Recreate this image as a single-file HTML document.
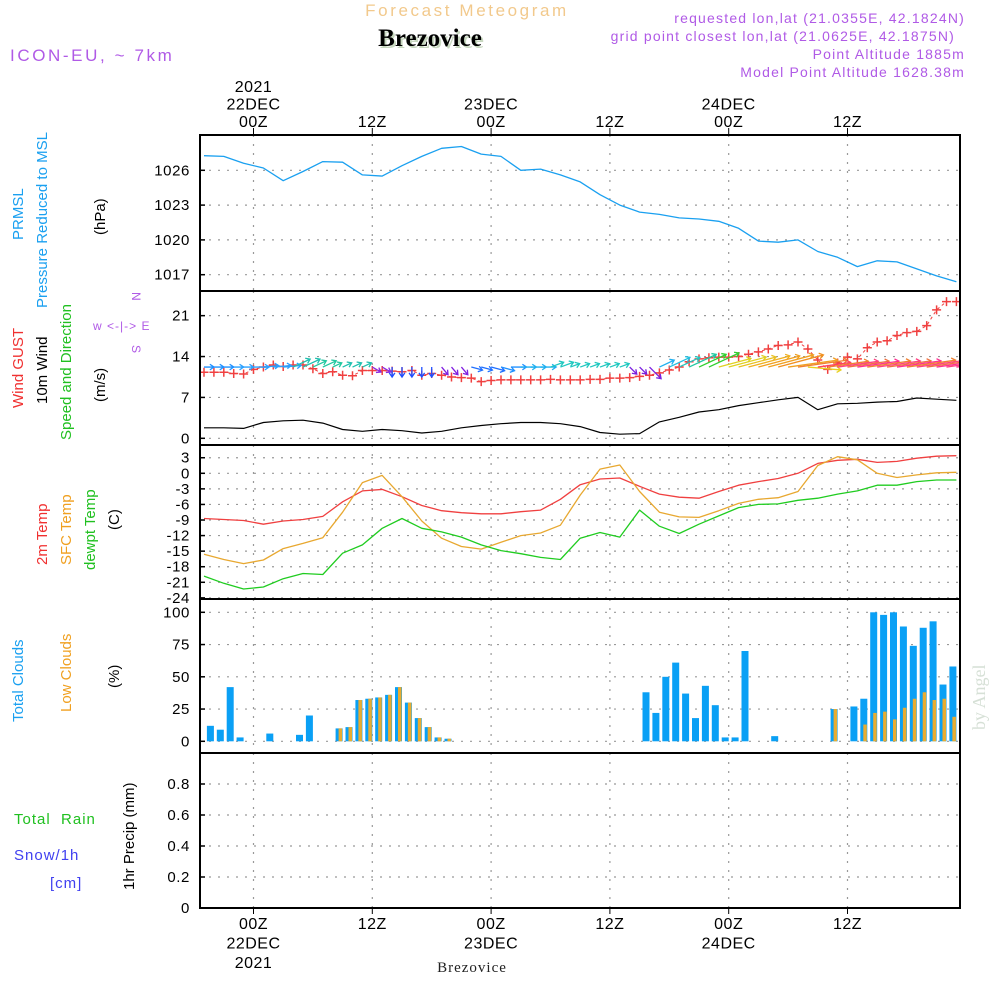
<!DOCTYPE html>
<html><head><meta charset="utf-8">
<style>
html,body{margin:0;padding:0;background:#fff;}
svg{display:block;font-family:"Liberation Sans",sans-serif;}
</style></head>
<body>
<svg id="chart" width="1000" height="1000" viewBox="0 0 1000 1000" xmlns="http://www.w3.org/2000/svg">
  <text x="467" y="16" text-anchor="middle" font-size="17" fill="#f2c98c" letter-spacing="2.6">Forecast Meteogram</text>
  <text x="432" y="48" text-anchor="middle" font-size="25" font-weight="bold" font-family="Liberation Serif, serif" fill="#c8d8c0">Brezovice</text>
  <text x="430" y="46" text-anchor="middle" font-size="25" font-weight="bold" font-family="Liberation Serif, serif" fill="#000">Brezovice</text>
  <text x="10" y="61" font-size="17" fill="#b05ae6" letter-spacing="2.6">ICON-EU, ~ 7km</text>
  <g font-size="14" fill="#b05ae6" text-anchor="end" letter-spacing="1.2">
    <text x="965" y="23">requested lon,lat (21.0355E, 42.1824N)</text>
    <text x="955" y="41">grid point closest lon,lat (21.0625E, 42.1875N)</text>
    <text x="965" y="59">Point Altitude 1885m</text>
    <text x="965" y="77">Model Point Altitude 1628.38m</text>
  </g>
  <text x="472" y="972" text-anchor="middle" font-size="15" font-family="Liberation Serif, serif" fill="#222" letter-spacing="1">Brezovice</text>
  <text transform="translate(985,730) rotate(-90)" font-size="18" font-family="Liberation Serif, serif" fill="#d6e0d6">by Angel</text>

  <g font-size="15">
    <text transform="translate(23,240) rotate(-90)" fill="#1aa0f0">PRMSL</text>
    <text transform="translate(47,308) rotate(-90)" fill="#1aa0f0">Pressure Reduced to MSL</text>
    <text transform="translate(105,235) rotate(-90)" fill="#000">(hPa)</text>
    <text transform="translate(23,408) rotate(-90)" fill="#f03030">Wind GUST</text>
    <text transform="translate(47,404) rotate(-90)" fill="#000">10m Wind</text>
    <text transform="translate(71,440) rotate(-90)" fill="#20c020">Speed and Direction</text>
    <text transform="translate(105,402) rotate(-90)" fill="#000">(m/s)</text>
    <text transform="translate(47,565) rotate(-90)" fill="#f03030">2m Temp</text>
    <text transform="translate(71,565) rotate(-90)" fill="#f0a020">SFC Temp</text>
    <text transform="translate(95,570) rotate(-90)" fill="#20c020">dewpt Temp</text>
    <text transform="translate(119,530) rotate(-90)" fill="#000">(C)</text>
    <text transform="translate(23,722) rotate(-90)" fill="#1aa0f0">Total Clouds</text>
    <text transform="translate(71,712) rotate(-90)" fill="#f0a020">Low Clouds</text>
    <text transform="translate(119,688) rotate(-90)" fill="#000">(%)</text>
    <text x="14" y="824" fill="#20c020" letter-spacing="1">Total&#160;&#160;Rain</text>
    <text x="14" y="860" fill="#4040f0" letter-spacing="1">Snow/1h</text>
    <text x="50" y="888" fill="#4040f0" letter-spacing="1">[cm]</text>
    <text transform="translate(134,890) rotate(-90)" fill="#000">1hr Precip (mm)</text>
  </g>
  <g font-size="12" fill="#b05ae6">
    <text transform="translate(132,292) rotate(90)">N</text>
    <text x="93" y="330" letter-spacing="1">w &lt;-|-&gt; E</text>
    <text transform="translate(132,345) rotate(90)">S</text>
  </g>
  <g id="plot"></g>
</svg>
<script>
// ---------- DATA ----------
const lineHours = [-5,-3,-1,1,3,5,7,9,11,13,15,17,19,21,23,25,27,29,31,33,35,37,39,41,43,45,47,49,51,53,55,57,59,61,63,65,67,69,71];
const pressure = [1027.26,1027.2,1026.6,1026.2,1025.1,1025.9,1026.75,1026.7,1025.6,1025.5,1026.4,1027.2,1027.9,1028.05,1027.4,1027.2,1026.0,1026.1,1025.6,1025.0,1023.9,1023.0,1022.4,1022.2,1021.9,1021.8,1021.6,1021.0,1019.9,1019.8,1020.0,1019.0,1018.5,1017.7,1018.2,1018.1,1017.5,1016.9,1016.4];
const windSpeed = [1.8,1.8,1.7,2.7,3.0,3.1,2.6,1.5,1.2,1.5,1.3,0.9,1.2,1.8,2.2,2.5,2.7,2.7,2.5,2.0,1.0,0.7,0.8,2.8,3.6,4.5,4.9,5.6,6.1,6.6,7.0,4.9,5.9,6.0,6.2,6.3,6.9,6.7,6.5];
const temp2m = [-8.7,-8.9,-9.1,-9.8,-9.2,-8.9,-8.3,-5.5,-3.4,-3.1,-4.5,-6.2,-7.2,-7.6,-7.8,-7.8,-7.4,-7.1,-5.0,-2.2,-1.1,-0.9,-2.5,-4.0,-4.6,-4.8,-3.5,-2.3,-1.6,-1.0,0.0,1.9,2.5,2.7,2.1,2.3,2.9,3.3,3.4];
const tempSfc = [-15.6,-16.6,-17.4,-16.7,-14.5,-13.5,-12.4,-7.5,-1.8,-0.4,-4.5,-9.2,-12.5,-14.1,-14.6,-13.3,-12.0,-11.5,-10.0,-4.2,0.8,1.6,-3.5,-7.5,-8.4,-8.5,-7.2,-5.8,-5.0,-4.7,-3.5,1.5,3.2,2.6,0.0,-0.8,-0.3,0.1,0.2];
const dewpt = [-19.8,-21.2,-22.3,-21.9,-20.3,-19.3,-19.5,-15.4,-13.8,-10.6,-8.7,-10.6,-11.3,-12.3,-13.8,-14.9,-15.5,-16.2,-16.6,-12.5,-11.4,-12.3,-7.1,-10.2,-11.6,-9.8,-8.2,-6.6,-6.0,-5.9,-5.2,-4.8,-4.0,-3.4,-2.3,-2.3,-1.6,-1.3,-1.3];

const gustStartHour = -5;
const gust = [11.3,11.3,11.3,11.1,11.0,11.8,12.2,12.55,12.3,12.55,12.55,11.9,11.1,11.4,10.8,10.7,11.6,11.6,11.6,11.5,11.4,11.6,10.8,11.1,10.8,10.5,10.4,10.3,9.7,9.9,10.0,10.0,10.0,10.0,10.0,10.1,10.0,10.0,10.0,
  10.1,10.1,10.3,10.3,10.4,10.6,10.8,11.2,11.7,12.2,13.1,13.6,13.8,13.9,13.9,14.0,14.4,14.8,15.3,15.9,16.0,16.5,15.3,13.4,11.8,12.9,13.9,13.6,15.5,16.5,16.7,17.6,18.1,18.3,19.3,22.0,23.4,23.4];
const windDir = [0,0,0,0,0,0,5,5,5,25,25,25,25,25,25,25,25,-30,-30,-90,-90,-90,-90,-90,-50,-50,-50,-15,-15,-15,-15,0,0,0,0,20,20,20,20,20,20,20,20,-45,-45,-45,25,25,25,25,25,25,15,15,15,15,15,15,15,8,8,-5,8,8,8,8,8,8,8,8,8,8,8,8,8,8,8];
const windColor = ["#1e90ff","#1e90ff","#1e90ff","#2aa0ff","#2aa0ff","#2aa0ff","#2aa0ff","#2aa0ff","#2aa0ff","#20c0b0","#20c0b0","#20c8a0","#20c8a0","#20c8a0","#20c0b0","#20c0b0","#20c0b0","#8a2be2","#8a2be2","#2050ff","#2050ff","#2050ff","#2050ff","#2050ff","#8020e0","#8020e0","#8020e0","#2070ff","#2070ff","#2070ff","#2090ff","#2090ff","#20b0f0","#20b0f0","#20b0f0","#20c8c0","#20c8c0","#20c8c0","#20c8c0","#20c8c0","#20c8c0","#20c8c0","#20c8c0","#7a20e0","#7a20e0","#7a20e0","#20b0f0","#20c0e0","#20c8c0","#20c8a0","#30d030","#30d030","#e0d020","#e0d020","#e8c020","#f0b020","#f0a020","#f0a020","#f09020","#f0a020","#f08030","#e8d020","#ff4060","#f08030","#ff4080","#f07040","#ff3090","#f08030","#ff4080","#f07040","#ff3090","#f08030","#ff4080","#f07040","#ff3090","#ff4080","#ff3090"];

const cloudStartHour = -4;
const totalClouds = [12,9,42,3,0,0,6,0,0,5,20,0,0,10,11,32,33,34,36,42,30,18,11,3,2,0,0,0,0,0,0,0,0,0,0,0,0,0,0,0,0,0,0,0,38,22,50,61,37,18,43,28,3,3,70,0,0,4,0,0,0,0,0,25,0,27,33,100,98,100,89,74,88,93,44,58];
const lowClouds = [0,0,0,0,0,0,0,0,0,0,0,0,0,10,11,32,33,34,36,42,30,18,11,3,2,0,0,0,0,0,0,0,0,0,0,0,0,0,0,0,0,0,0,0,0,0,0,0,0,0,0,0,0,0,0,0,0,0,0,0,0,0,0,25,0,0,13,22,23,17,26,33,38,32,33,19];

const timeTicks = [0,12,24,36,48,60];
const timeTickTop = [["2021","22DEC","00Z"],["12Z"],["23DEC","00Z"],["12Z"],["24DEC","00Z"],["12Z"]];
const timeTickBottom = [["00Z","22DEC","2021"],["12Z"],["00Z","23DEC"],["12Z"],["00Z","24DEC"],["12Z"]];
const pressureTicks = [1026,1023,1020,1017];
const windTicks = [0,7,14,21];
const tempTicks = [3,0,-3,-6,-9,-12,-15,-18,-21,-24];
const cloudTicks = [0,25,50,75,100];
const precipTicks = [0,0.2,0.4,0.6,0.8];

// ---------- SCALES ----------
const L=200,R=960;
const x = h => 253.5 + 9.9*h;
const yP = p => 170.3 - (p-1026)*11.6;
const yW = w => 438.3 - w*5.84;
const yT = t => 473.3 - t*5.19;
const yC = c => 741.3 - c*1.29;
const yR = r => 908 - r*155;
const panels = [[135,291,pressureTicks,yP,'pressure'],[291,445,windTicks,yW,'wind'],[445,599,tempTicks,yT,'temp'],[599,753,cloudTicks,yC,'cloud'],[753,908,precipTicks,yR,'precip']];

const NS='http://www.w3.org/2000/svg';
const plot=document.getElementById('plot');
function mk(tag,attrs,parent){const e=document.createElementNS(NS,tag);for(const k in attrs)e.setAttribute(k,attrs[k]);(parent||plot).appendChild(e);return e;}

panels.forEach(([top,bot,ticks,ys,nm])=>{
  const g=mk('g',{});
  
  
  ticks.forEach(v=>{
    const y=ys(v);
    const gl=mk('line',{x1:L,x2:R,y1:y,y2:y,stroke:'#999','stroke-width':1.2,'stroke-dasharray':'2 7'},g);
    
    
    mk('line',{x1:L,x2:L+5,y1:y,y2:y,stroke:'#000','stroke-width':1.5},g);
    const t=mk('text',{x:190,y:y+5,'text-anchor':'end','font-size':15,fill:'#000','letter-spacing':0.6},g);
    t.textContent = nm==='precip' ? (v===0?'0':v.toFixed(1)) : String(v);
    
    
  });
  timeTicks.forEach(h=>{
    const vl=mk('line',{x1:x(h),x2:x(h),y1:top,y2:bot,stroke:'#999','stroke-width':1.2,'stroke-dasharray':'2 7'},g);
    
    
  });
});
timeTicks.forEach((h,i)=>{
  mk('line',{x1:x(h),x2:x(h),y1:128,y2:135,stroke:'#000','stroke-width':1});
  mk('line',{x1:x(h),x2:x(h),y1:908,y2:914,stroke:'#000','stroke-width':1});
  const top=timeTickTop[i];
  top.forEach((s,j)=>{
    const t=mk('text',{x:x(h),y:127-(top.length-1-j)*17.5,'text-anchor':'middle','font-size':16,fill:'#000','letter-spacing':0.5});
    t.textContent=s;
    
    
  });
  timeTickBottom[i].forEach((s,j)=>{
    const t=mk('text',{x:x(h),y:929+j*19.5,'text-anchor':'middle','font-size':16,fill:'#000','letter-spacing':0.5});
    t.textContent=s;
    
    
  });
});

const defs=mk('defs',{});
const cp=mk('clipPath',{id:'clip'},defs);
mk('rect',{x:L,y:135,width:R-L,height:773},cp);
const S=mk('g',{'clip-path':'url(#clip)'});

function line(vals,ys,color,name,w){
  const d=vals.map((v,i)=>(i?'L':'M')+x(lineHours[i]).toFixed(1)+','+ys(v).toFixed(1)).join('');
  const p=mk('path',{d:d,fill:'none',stroke:color,'stroke-width':w||1.3,'stroke-linejoin':'round'},S);
  
  
}
line(pressure,yP,'#1aa0f0','pressure-line');
line(windSpeed,yW,'#000','wind-speed-line',1.2);
line(temp2m,yT,'#f04040','temp-2m-line');
line(tempSfc,yT,'#e8a830','temp-sfc-line');
line(dewpt,yT,'#20cc20','dewpoint-line');

const gd=gust.map((v,i)=>(i?'L':'M')+x(gustStartHour+i).toFixed(1)+','+yW(v).toFixed(1)).join('');
const gl=mk('path',{d:gd,fill:'none',stroke:'#f04040','stroke-width':1,'stroke-dasharray':'3 3'},S);


gust.forEach((v,i)=>{
  const cx=x(gustStartHour+i), cy=yW(v);
  const c=mk('path',{d:`M${cx-4.5},${cy}H${cx+4.5}M${cx},${cy-4.5}V${cy+4.5}`,stroke:'#f04040','stroke-width':1.5},S);
  
  
});

const arrowBase = 12.2;
windDir.forEach((a,i)=>{
  const h=gustStartHour+i;
  const li=Math.min(lineHours.length-1,Math.max(0,Math.round((h-lineHours[0])/2)));
  const sp=windSpeed[li];
  const len=Math.max(10,8*sp-6);
  const r=a*Math.PI/180;
  const x0=x(h), y0=yW(arrowBase);
  const x1=x0+len*Math.cos(r), y1=y0-len*Math.sin(r);
  const hx1=x1-5*Math.cos(r-0.6), hy1=y1+5*Math.sin(r-0.6);
  const hx2=x1-5*Math.cos(r+0.6), hy2=y1+5*Math.sin(r+0.6);
  const ar=mk('path',{d:`M${x0},${y0}L${x1},${y1}M${hx1},${hy1}L${x1},${y1}L${hx2},${hy2}`,fill:'none',stroke:windColor[i],'stroke-width':1.3},S);
  
  
});

totalClouds.forEach((v,i)=>{
  const h=cloudStartHour+i, xr=x(h);
  if(v>0){
    const b=mk('rect',{x:xr-7,y:yC(v),width:7,height:yC(0)-yC(v),fill:'#0aa0f5'},S);
    
    
  }
  const lv=lowClouds[i];
  if(lv>0){
    const b=mk('rect',{x:xr-4,y:yC(lv),width:3.5,height:yC(0)-yC(lv),fill:'#e8ac30'},S);
    
    
  }
});

panels.forEach(([top,bot])=>{
  mk('rect',{x:L,y:top,width:R-L,height:bot-top,fill:'none',stroke:'#000','stroke-width':2});
});
</script>
</body></html>
